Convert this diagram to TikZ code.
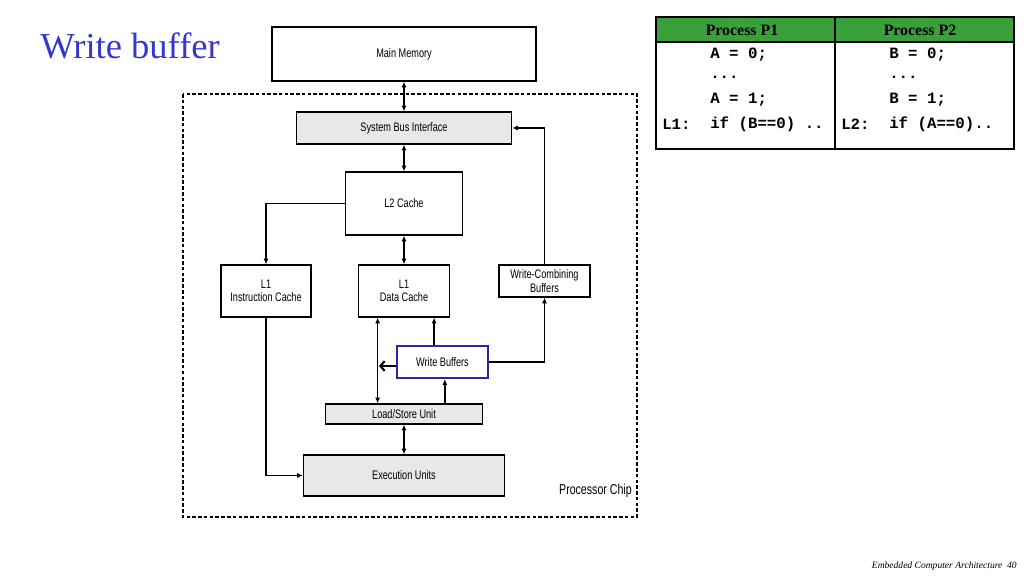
\documentclass[tikz,border=0pt]{standalone}
\usepackage{fontspec}
\setmainfont{Liberation Serif}
\newfontfamily\codefont{Liberation Mono}
\newfontfamily\chipfont[FakeStretch=0.74]{Liberation Sans}
\usetikzlibrary{positioning}
\usetikzlibrary{calc}
\usetikzlibrary{arrows.meta}
\definecolor{titleblue}{RGB}{55,55,200}
\definecolor{headgreen}{RGB}{58,160,58}
\definecolor{boxgray}{RGB}{232,232,232}
\definecolor{wbblue}{RGB}{40,40,160}

\tikzset{
  blk/.style={draw, line width=0.9pt, inner sep=0pt, align=center,
              font=\chipfont\fontsize{8.8}{9.6}\selectfont},
  grayblk/.style={blk, fill=boxgray},
  link/.style={line width=0.95pt, >={Latex[length=4pt,width=3.5pt]}},
  code/.style={anchor=west, inner sep=0pt, font=\codefont\bfseries\fontsize{11.2}{12}\selectfont},
  head/.style={inner sep=0pt, font=\bfseries\fontsize{11.3}{12}\selectfont}
}

\begin{document}
\begin{tikzpicture}[x=0.025cm, y=-0.025cm]

\useasboundingbox (0,0) rectangle (1024,576);

%---------------------------------------
% Title and footer
%---------------------------------------
\node[anchor=west, inner sep=0pt, text=titleblue, font=\fontsize{26}{28}\selectfont]
  (title) at (40,46) {Write buffer};
\node[anchor=east, inner sep=0pt, font=\itshape\fontsize{6.8}{8}\selectfont]
  (footer) at (1017,566) {Embedded Computer Architecture\ \ 40};

%====================================================
% PROCESSOR CHIP
%====================================================
\draw[line width=0.8pt, dash pattern=on 2.5pt off 1.6pt] (183,94) rectangle (637,517);
\node[anchor=east, inner sep=0pt, font=\chipfont\fontsize{10.2}{11}\selectfont]
  (chip) at (632,491) {Processor Chip};

% Boxes
\node[blk, minimum width=6.6cm, minimum height=1.35cm] (mm) at (404,54) {Main Memory};
\node[grayblk, minimum width=5.375cm, minimum height=0.8cm] (sbi) at (404,128) {System Bus Interface};
\node[blk, minimum width=2.925cm, minimum height=1.575cm] (l2) at (404,203.5) {L2 Cache};
\node[blk, minimum width=2.25cm, minimum height=1.3cm] (l1i) at (266,291) {L1\\Instruction Cache};
\node[blk, minimum width=2.275cm, minimum height=1.3cm] (l1d) at (404,291) {L1\\Data Cache};
\node[blk, minimum width=2.275cm, minimum height=0.8cm] (wcb) at (544.5,281) {Write-Combining\\Buffers};
\node[blk, draw=wbblue, line width=1.6pt, minimum width=2.275cm, minimum height=0.8cm]
  (wb) at (442.5,362) {Write Buffers};
\node[grayblk, minimum width=3.925cm, minimum height=0.5cm] (lsu) at (404,414) {Load/Store Unit};
\node[grayblk, minimum width=5.025cm, minimum height=1.025cm] (eu) at (404,475.5) {Execution Units};

% Connectors
\draw[link, <->] (mm) -- (sbi);
\draw[link, <->] (sbi) -- (l2);
\draw[link, <->] (l2) -- (l1d);
\draw[link, <->] (lsu) -- (eu);
\draw[link, ->] (l2.west) -| (l1i.north);
\draw[link, ->] (l1i.south) |- (eu.west);
\draw[link, <->] ([xshift=-0.66cm]l1d.south) -- ([xshift=-0.66cm]l1d.south |- lsu.north);
\draw[link, ->] ([xshift=-0.21cm]wb.north) -- ([xshift=-0.21cm]wb.north |- l1d.south);
\draw[link, ->] ([xshift=0.06cm]wb.south |- lsu.north) -- ([xshift=0.06cm]wb.south);
\draw[link, ->] (wb.east) -| (wcb.south);
\draw[link, ->] (wcb.north) |- (sbi.east);

\coordinate (wbout) at (379,366);
\draw[line width=1.5pt, -{Straight Barb[length=3pt,width=7pt]}] (wb.west |- wbout) -- (wbout);

%====================================================
% CODE TABLE
%====================================================
\fill[headgreen] (656,17) rectangle (1014,42);
\draw[line width=1.2pt] (656,17) rectangle (1014,149);
\draw[line width=0.8pt] (656,42) -- (1014,42);
\draw[line width=0.8pt] (835,17) -- (835,149);

\node[head] (hp1) at (742,30) {Process P1};
\node[head] (hp2) at (920,30) {Process P2};

% Process P1
\node[code] (a0) at (710,55) {A = 0;};
\node[code] (d1) at (710,77) {...};
\node[code] (a1) at (710,100) {A = 1;};
\node[code] (l1) at (662,124) {L1:};
\node[code] (if1) at (710,124) {if (B==0) ..};

% Process P2
\node[code] (b0) at (889,55) {B = 0;};
\node[code] (d2) at (889,77) {...};
\node[code] (b1) at (889,100) {B = 1;};
\node[code] (l2lbl) at (841,124) {L2:};
\node[code] (if2) at (889,124) {if (A==0)..};

\end{tikzpicture}
\end{document}
